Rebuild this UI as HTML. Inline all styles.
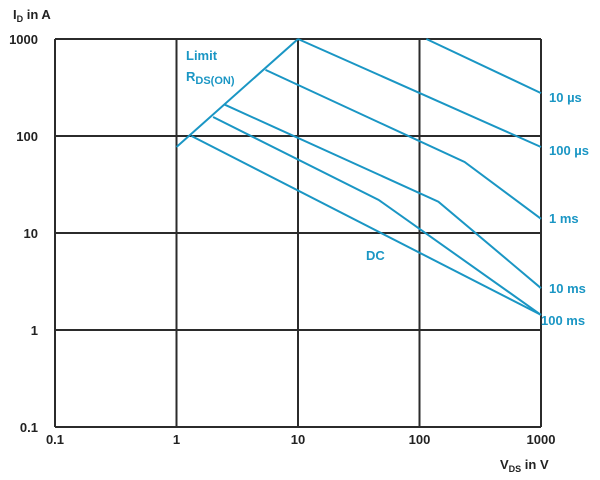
<!DOCTYPE html>
<html><head><meta charset="utf-8"><style>
body{margin:0;background:#fff;}
svg text{font-family:"Liberation Sans",sans-serif;font-weight:bold;}
</style></head><body>
<svg width="600" height="475" viewBox="0 0 600 475" xmlns="http://www.w3.org/2000/svg">
<g id="grid"></g><g id="series"></g><g id="labels"></g>
</svg>
<script>
const xTicks=[0.1,1,10,100,1000];
const xTickLabels=["0.1","1","10","100","1000"];
const yTicks=[0.1,1,10,100,1000];
const yTickLabels=["0.1","1","10","100","1000"];
const limitV=[1,10];const limitI=[77,1000];
const us10V=[114,1000];const us10I=[1000,277];
const us100V=[10,1000];const us100I=[1000,77];
const ms1V=[5.4,235,1000];const ms1I=[480,54,14];
const ms10V=[2.5,143,1000];const ms10I=[210,21,2.7];
const ms100V=[2.0,46,1000];const ms100I=[157,22,1.43];
const dcV=[1.33,1000];const dcI=[100,1.43];
const X0=55,X1=541,Y0=427,Y1=39;
function xs(v){return X0+(Math.log10(v)+1)/4*(X1-X0);}
function ys(v){return Y0-(Math.log10(v)+1)/4*(Y0-Y1);}
const NS="http://www.w3.org/2000/svg";
function mk(t,a,p){const e=document.createElementNS(NS,t);for(const k in a)e.setAttribute(k,a[k]);p.appendChild(e);return e;}
const grid=document.getElementById('grid'),ser=document.getElementById('series'),lab=document.getElementById('labels');
xTicks.forEach((v,i)=>{
 const l=mk('line',{x1:xs(v),x2:xs(v),y1:Y1,y2:Y0,stroke:'#2b2b2b','stroke-width':2},grid);
 
 
 const t=mk('text',{x:xs(v),y:444,'text-anchor':'middle','font-size':13,fill:'#222'},lab);t.textContent=xTickLabels[i];
 
 
});
yTicks.forEach((v,i)=>{
 const l=mk('line',{x1:X0,x2:X1,y1:ys(v),y2:ys(v),stroke:'#2b2b2b','stroke-width':2},grid);
 
 
 const t=mk('text',{x:38,y:ys(v)+5,'text-anchor':'end','font-size':13,fill:'#222'},lab);t.textContent=yTickLabels[i];
 
 
});
const series=[["limit-rdson",limitV,limitI],["line-10us",us10V,us10I],["line-100us",us100V,us100I],["line-1ms",ms1V,ms1I],["line-10ms",ms10V,ms10I],["line-100ms",ms100V,ms100I],["line-dc",dcV,dcI]];
series.forEach(s=>{
 const pts=s[1].map((v,i)=>xs(v).toFixed(1)+','+ys(s[2][i]).toFixed(1)).join(' ');
 const p=mk('polyline',{points:pts,fill:'none',stroke:'#1a96c4','stroke-width':2},ser);
 
 
});
</script>
<svg width="600" height="475" style="position:absolute;left:0;top:0" xmlns="http://www.w3.org/2000/svg">
<g font-family="Liberation Sans, sans-serif" font-weight="bold" font-size="13">
<text x="13" y="19" fill="#222">I<tspan font-size="9" dy="3">D</tspan><tspan dy="-3"> in A</tspan></text>
<text x="500" y="469" fill="#222">V<tspan font-size="9" dy="3">DS</tspan><tspan dy="-3"> in V</tspan></text>
<g fill="#1a96c4">
<text x="186" y="60">Limit</text>
<text x="186" y="81">R<tspan font-size="11" dy="3">DS(ON)</tspan></text>
<text x="366" y="260">DC</text>
<text x="549" y="102">10 µs</text>
<text x="549" y="155">100 µs</text>
<text x="549" y="223">1 ms</text>
<text x="549" y="293">10 ms</text>
<text x="541" y="325">100 ms</text>
</g></g></svg>
</body></html>
